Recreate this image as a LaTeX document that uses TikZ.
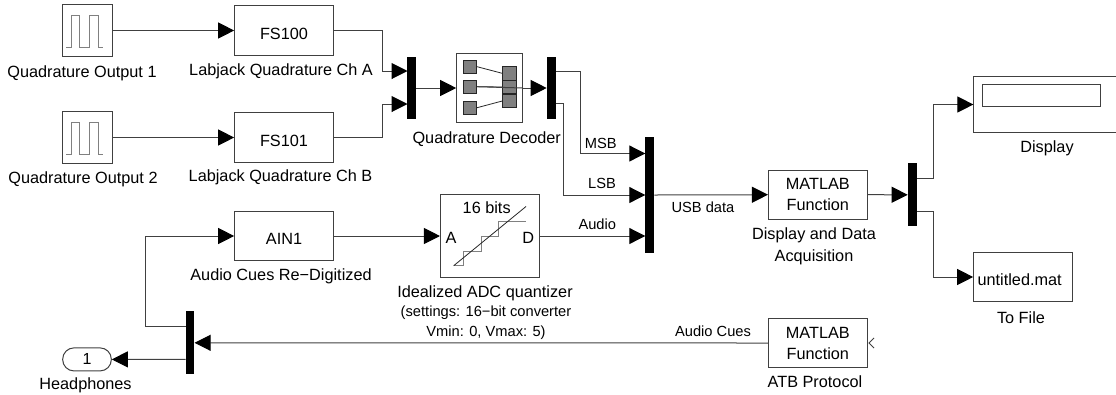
\documentclass[tikz,border=0pt]{standalone}
\usepackage{fontspec}
\setmainfont{Liberation Sans}
\usetikzlibrary{arrows.meta}
\tikzset{
  block/.style={draw=black!75, line width=0.75pt, inner sep=0pt, minimum width=74pt, minimum height=37pt, align=center, font=\fontsize{12.2}{15.75}\selectfont, execute at begin node=\rule{0pt}{13pt}},
  oneline/.style={execute at begin node=\rule{0pt}{11pt}},
  pulsebox/.style={draw=black!75, line width=0.75pt, inner sep=0pt, minimum width=37pt, minimum height=39.5pt},
  muxbar/.style={fill=black, inner sep=0pt, minimum width=6.5pt},
  cell/.style={draw=black!85, fill=black!50, line width=0.6pt, inner sep=0pt, minimum width=10pt, minimum height=10pt},
  lbl/.style={inner sep=0pt, align=center, yshift=-1.5pt, font=\fontsize{12.2}{16.5}\selectfont},
  sig/.style={inner sep=0pt, align=center, font=\fontsize{11}{15}\selectfont},
  wire/.style={draw=black!75, line width=0.75pt},
  arrowwire/.style={wire, -{Triangle[length=12pt,width=12pt,color=black]}},
  trace/.style={draw=black!50, line width=0.75pt}
}
\begin{document}
\begin{tikzpicture}[x=0.75pt,y=-0.75pt]
\useasboundingbox (0,0) rectangle (1116,394);

%%%%%%%%%%%%%%%%%%%%%%%%%%%%%%%
\node [pulsebox] (pulsea) at (87.5,30.5) {};
\node [pulsebox] (pulseb) at (87.5,137.5) {};
\draw[trace] (66,47.3) -- (71.7,47.3) -- (71.7,15.7) -- (79,15.7) -- (79,47.3) -- (89,47.3) -- (89,15.7) -- (98,15.7) -- (98,47.3) -- (103,47.3);
\draw[trace] (66,154.3) -- (71.7,154.3) -- (71.7,122.7) -- (79,122.7) -- (79,154.3) -- (89,154.3) -- (89,122.7) -- (98,122.7) -- (98,154.3) -- (103,154.3);
\node [lbl] (pulsealbl) at (82,71) {Quadrature Output 1};
\node [lbl] (pulseblbl) at (83,177) {Quadrature Output 2};

\node [block, oneline] (fsa) at (284,30.5) {FS100};
\node [block, oneline] (fsb) at (284,137.5) {FS101};
\node [block, oneline] (ain) at (284,236) {AIN1};
\node [lbl] (fsalbl) at (281,69.5) {Labjack Quadrature Ch A};
\node [lbl] (fsblbl) at (280.5,175.5) {Labjack Quadrature Ch B};
\node [lbl] (ainlbl) at (281,274.5) {Audio Cues Re−Digitized};

%%%%%%%%%%%%%%%%%%%%%%%%%%%%%%%
\node [muxbar, minimum height=47pt] (muxa) at (411.7,88) {};
\coordinate (muxaa) at (407.5,71);
\coordinate (muxab) at (407.5,104);

\node [draw=black!75, line width=0.75pt, inner sep=0pt, minimum width=49.5pt, minimum height=51.5pt] (decoder) at (489.7,88) {};
\node [cell] (qa) at (470,66.7) {};
\node [cell] (qb) at (470,86.7) {};
\node [cell] (qc) at (470,107.7) {};
\node [cell] (qd) at (509.3,73.3) {};
\node [cell] (qe) at (509.3,87) {};
\node [cell] (qf) at (509.3,101) {};
\draw[black!85, line width=0.6pt] (qa.east) -- (qd.west);
\draw[black!85, line width=0.6pt] (qb.east) -- (qe.west);
\draw[black!85, line width=0.6pt] (qc.east) -- (qf.west);
\node [lbl] (decoderlbl) at (486.7,137) {Quadrature Decoder};

\node [muxbar, minimum height=47pt] (demux) at (551.3,88) {};
\coordinate (demuxa) at (555.5,71);
\coordinate (demuxb) at (555.5,103.5);

%%%%%%%%%%%%%%%%%%%%%%%%%%%%%%%
\node [block, minimum height=62pt] (adc) at (489.8,236) {};
\node [lbl] (adcbits) at (486.7,205.5) {16 bits};
\node [lbl] (adca) at (451,236) {A};
\node [lbl] (adcd) at (528.3,236) {D};
\draw[trace] (453.7,265.7) -- (463.3,265.7) -- (463.3,251) -- (481.7,251) -- (481.7,236) -- (498,236) -- (498,221) -- (526,221);
\draw[black!85, line width=0.6pt] (453.7,265.7) -- (526,206.5);
\node [lbl] (adclbl) at (485,291) {Idealized ADC quantizer};
\node [sig] (adcnote) at (486,323) {(settings: 16−bit converter\\Vmin: 0, Vmax: 5)};

\node [muxbar, minimum height=86.5pt] (muxb) at (649.7,195) {};
\coordinate (muxba) at (645.3,153.5);
\coordinate (muxbb) at (645.3,195);
\coordinate (muxbc) at (645.3,236);
\node [sig] (msblbl) at (600.7,143) {MSB};
\node [sig] (lsblbl) at (602,183.3) {LSB};
\node [sig] (audiolbl) at (597.3,224.5) {Audio};
\node [sig] (usblbl) at (703,207) {USB data};

%%%%%%%%%%%%%%%%%%%%%%%%%%%%%%%
\node [block] (acq) at (817.8,194.7) {MATLAB\\Function};
\node [lbl] (acqlbl) at (814,244) {Display and Data\\Acquisition};
\node [muxbar, minimum height=47pt] (split) at (912.3,194.8) {};
\coordinate (splita) at (916.7,178.3);
\coordinate (splitb) at (916.7,211.3);

\node [inner sep=0pt, minimum width=107pt, minimum height=42pt] (display) at (1045,104.5) {};
\draw[wire] (display.north east) -- (display.north west) -- (display.south west) -- (display.south east);
\node [draw=black!75, line width=0.75pt, inner sep=0pt, minimum width=89pt, minimum height=16.5pt] (readout) at (1041.5,95.3) {};
\node [lbl] (displaylbl) at (1047,146) {Display};

\node [block, oneline] (tofile) at (1023,277) {untitled.mat\hspace*{5pt}};
\node [lbl] (tofilelbl) at (1021,315.5) {To File};

\node [block] (atb) at (817.8,343) {MATLAB\\Function};
\node [lbl] (atblbl) at (815,380) {ATB Protocol};
\draw[black!75, line width=0.6pt] (874,338) -- (869,343) -- (874,348);
\node [sig] (cueslbl) at (713,331) {Audio Cues};

%%%%%%%%%%%%%%%%%%%%%%%%%%%%%%%
\node [muxbar, minimum height=47pt] (back) at (190,342.8) {};
\coordinate (backa) at (185.7,326.3);
\coordinate (backb) at (185.7,359.3);
\node [draw=black!75, line width=0.75pt, rounded corners=8.5pt, inner sep=0pt, minimum width=36.5pt, minimum height=17.3pt, font=\fontsize{12}{14}\selectfont] (port) at (87,359.4) {1};
\node [lbl] (portlbl) at (85.5,383) {Headphones};

%%%%%%%%%%%%%%%%%%%%%%%%%%%%%%%
\draw[arrowwire] (pulsea.east) -- (fsa.west);
\draw[arrowwire] (pulseb.east) -- (fsb.west);
\draw[arrowwire] (fsa.east) -- ++(49,0) |- (muxaa);
\draw[arrowwire] (fsb.east) -- ++(49,0) |- (muxab);
\draw[arrowwire] (muxa.east) -- (decoder.west);
\draw[wire] (qb.east) -- (decoder.east);
\draw[arrowwire] (decoder.east) -- (demux.west);
\draw[arrowwire] (demuxa) -- ++(24.5,0) |- (muxba);
\draw[arrowwire] (demuxb) -- ++(8.2,0) |- (muxbb);
\draw[arrowwire] (ain.east) -- (adc.west);
\draw[arrowwire] (adc.east) -- (muxbc);
\draw[arrowwire] (muxb.east) -- (acq.west);
\draw[arrowwire] (acq.east) -- (split.west);
\draw[arrowwire] (splita) -- ++(16.3,0) |- (display.west);
\draw[arrowwire] (splitb) -- ++(16.3,0) |- (tofile.west);
\draw[arrowwire] (atb.west) -- (back.east);
\draw[arrowwire] (backa) -- ++(-40.7,0) |- (ain.west);
\draw[arrowwire] (backb) -- (port.east);
\end{tikzpicture}
\end{document}
